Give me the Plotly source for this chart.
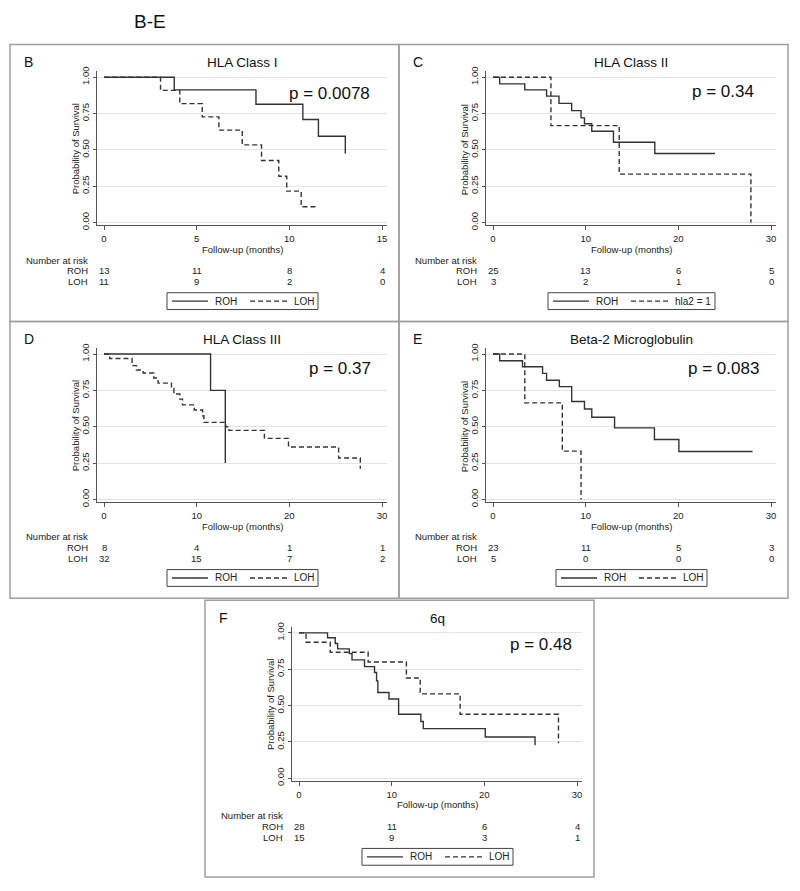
import plotly.graph_objects as go

W, H = 800, 891
FONT = "Liberation Sans, Arial, Helvetica, sans-serif"

# ---------------- data ----------------
panel_letters = ["B", "C", "D", "E", "F"]
panel_titles = ["HLA Class I", "HLA Class II", "HLA Class III", "Beta-2 Microglobulin", "6q"]
p_values = ["p = 0.0078", "p = 0.34", "p = 0.37", "p = 0.083", "p = 0.48"]
group1_names = ["ROH", "ROH", "ROH", "ROH", "ROH"]
group2_names = ["LOH", "hla2 = 1", "LOH", "LOH", "LOH"]
x_max = [15, 30, 30, 30, 30]
x_ticks = [[0, 5, 10, 15], [0, 10, 20, 30], [0, 10, 20, 30], [0, 10, 20, 30], [0, 10, 20, 30]]
y_ticks = [0, 0.25, 0.5, 0.75, 1.0]
y_tick_labels = ["0.00", "0.25", "0.50", "0.75", "1.00"]

# Kaplan-Meier step data (time of step, survival after step); last repeated value = censored end
b_roh_t = [3.79, 8.2, 10.73, 11.57, 13.02]
b_roh_s = [0.913, 0.814, 0.709, 0.594, 0.475]
b_loh_t = [3.05, 4.09, 5.3, 6.2, 7.46, 8.5, 9.43, 9.86, 10.64, 11.52]
b_loh_s = [0.909, 0.818, 0.727, 0.636, 0.534, 0.427, 0.318, 0.216, 0.109, 0.109]

c_roh_t = [0.72, 3.43, 5.78, 7.12, 8.49, 9.5, 9.87, 10.66, 13.0, 17.46, 23.96]
c_roh_s = [0.954, 0.913, 0.87, 0.82, 0.77, 0.72, 0.68, 0.628, 0.552, 0.475, 0.475]
c_hla_t = [6.25, 13.62, 27.83]
c_hla_s = [0.667, 0.333, 0.0]

d_roh_t = [11.5, 13.09]
d_roh_s = [0.75, 0.25]
d_loh_t = [0.61, 3.03, 3.5, 4.22, 5.37, 5.84, 7.28, 7.54, 8.19, 8.47, 9.74, 10.64, 10.78,
           13.13, 13.49, 17.31, 19.91, 25.32, 27.66]
d_loh_s = [0.969, 0.92, 0.89, 0.87, 0.835, 0.80, 0.765, 0.725, 0.69, 0.65, 0.615, 0.575, 0.53,
           0.50, 0.475, 0.42, 0.36, 0.285, 0.21]

e_roh_t = [0.72, 3.18, 5.35, 5.78, 7.16, 8.49, 9.87, 10.66, 13.12, 17.42, 20.06, 28.01]
e_roh_s = [0.954, 0.913, 0.867, 0.82, 0.776, 0.673, 0.622, 0.565, 0.492, 0.412, 0.33, 0.33]
e_loh_t = [3.43, 7.48, 9.5]
e_loh_s = [0.664, 0.332, 0.0]

f_roh_t = [3.08, 3.91, 4.17, 5.43, 5.72, 7.07, 8.15, 8.37, 8.51, 9.71, 10.75, 13.15, 13.41, 20.1, 25.47]
f_roh_s = [0.966, 0.927, 0.89, 0.857, 0.814, 0.768, 0.727, 0.67, 0.59, 0.545, 0.44, 0.39, 0.341, 0.284, 0.227]
f_loh_t = [0.76, 3.37, 7.46, 11.59, 13.08, 17.39, 28.0]
f_loh_s = [0.936, 0.867, 0.8, 0.69, 0.58, 0.44, 0.24]

g1_times = [b_roh_t, c_roh_t, d_roh_t, e_roh_t, f_roh_t]
g1_surv = [b_roh_s, c_roh_s, d_roh_s, e_roh_s, f_roh_s]
g2_times = [b_loh_t, c_hla_t, d_loh_t, e_loh_t, f_loh_t]
g2_surv = [b_loh_s, c_hla_s, d_loh_s, e_loh_s, f_loh_s]

# numbers at risk at the x ticks
risk_g1 = [[13, 11, 8, 4], [25, 13, 6, 5], [8, 4, 1, 1], [23, 11, 5, 3], [28, 11, 6, 4]]
risk_g2 = [[11, 9, 2, 0], [3, 2, 1, 0], [32, 15, 7, 2], [5, 0, 0, 0], [15, 9, 3, 1]]
risk_row_labels = ["ROH", "LOH"]

# ---------------- layout helpers ----------------
panel_origin = [(10, 40), (399, 40), (10, 320), (399, 320), (205, 602)]
p_right = [362, 357, 363, 362, 369]
p_y = [49, 47, 48, 48, 45]
legend_w = [151, 167, 151, 151, 151]
PW, PH = 389, 280
SOLID, DASH = "solid", "5px,3px"


def fx(px):
    return px / W


def fy(py):
    return 1 - py / H


fig = go.Figure()
layout = dict(
    width=W, height=H, autosize=False,
    margin=dict(l=0, r=0, t=0, b=0),
    paper_bgcolor="white", plot_bgcolor="white",
    font=dict(family=FONT, size=9.5, color="#222"),
    hovermode=False, showlegend=False,
)
annotations = []
shapes = []

small = dict(family=FONT, size=9.5, color="#222")
line_col = "#333333"

for i, (L, T) in enumerate(panel_origin):
    n = "" if i == 0 else str(i + 1)
    xm = x_max[i]
    scale = 278.0 / xm
    xr = [-7.0 / scale, xm + 5.0 / scale]
    yr = [-3.0 / 147.0, 1 + 6.0 / 147.0]
    layout["xaxis" + n] = dict(
        domain=[fx(L + 87), fx(L + 377)], anchor="y" + n, range=xr,
        showline=True, linecolor="#555", linewidth=1, ticks="outside", ticklen=4,
        tickcolor="#555", tickvals=x_ticks[i], showgrid=False, zeroline=False,
        tickfont=small, fixedrange=True,
    )
    layout["yaxis" + n] = dict(
        domain=[fy(T + 183), fy(T + 27)], anchor="x" + n, range=yr,
        showline=True, linecolor="#555", linewidth=1, ticks="outside", ticklen=3,
        tickcolor="#555", tickvals=y_ticks, ticktext=y_tick_labels, tickangle=-90,
        showgrid=True, gridcolor="#e4e4e4", gridwidth=1, zeroline=False,
        tickfont=small, fixedrange=True,
    )

    for times, surv, name, dash in [
        (g1_times[i], g1_surv[i], group1_names[i], SOLID),
        (g2_times[i], g2_surv[i], group2_names[i], DASH),
    ]:
        xs = [0.0] + list(times)
        ys = [1.0] + list(surv)
        fig.add_trace(go.Scatter(
            x=xs, y=ys, mode="lines", line=dict(shape="hv", color=line_col, width=1.4, dash=dash),
            name=name, xaxis="x" + n, yaxis="y" + n, showlegend=False,
        ))

    # panel border
    shapes.append(dict(type="rect", xref="paper", yref="paper",
                       x0=fx(L), x1=fx(L + PW), y0=fy(T + PH), y1=fy(T),
                       line=dict(color="#a0a0a0", width=1.5), fillcolor="rgba(0,0,0,0)"))

    # legend box (Stata style)
    bw = legend_w[i]
    bl = L + 232.5 - bw / 2.0
    shapes.append(dict(type="rect", xref="paper", yref="paper",
                       x0=fx(bl), x1=fx(bl + bw), y0=fy(T + 268), y1=fy(T + 251),
                       line=dict(color="#444", width=1), fillcolor="white"))
    ly = fy(T + 259.5)
    shapes.append(dict(type="line", xref="paper", yref="paper",
                       x0=fx(bl + 5), x1=fx(bl + 41), y0=ly, y1=ly,
                       line=dict(color=line_col, width=1.4, dash=SOLID)))
    shapes.append(dict(type="line", xref="paper", yref="paper",
                       x0=fx(bl + 83), x1=fx(bl + 120), y0=ly, y1=ly,
                       line=dict(color=line_col, width=1.4, dash=DASH)))
    annotations.append(dict(text=group1_names[i], xref="paper", yref="paper",
                            x=fx(bl + 46), y=ly, xanchor="left", yanchor="middle",
                            showarrow=False, font=dict(family=FONT, size=10, color="#222")))
    annotations.append(dict(text=group2_names[i], xref="paper", yref="paper",
                            x=fx(bl + 125), y=ly, xanchor="left", yanchor="middle",
                            showarrow=False, font=dict(family=FONT, size=10, color="#222")))

    # letter, title, p-value
    annotations.append(dict(text=panel_letters[i], xref="paper", yref="paper",
                            x=fx(L + 12), y=fy(T + 18), xanchor="left", yanchor="middle",
                            showarrow=False, font=dict(family=FONT, size=14, color="#111")))
    annotations.append(dict(text=panel_titles[i], xref="paper", yref="paper",
                            x=fx(L + 232), y=fy(T + 18), xanchor="center", yanchor="middle",
                            showarrow=False, font=dict(family=FONT, size=13.5, color="#111")))
    annotations.append(dict(text=p_values[i], xref="paper", yref="paper",
                            x=fx(L + p_right[i]), y=fy(T + p_y[i]), xanchor="right", yanchor="middle",
                            showarrow=False, font=dict(family=FONT, size=17, color="#111")))
    # axis titles
    annotations.append(dict(text="Follow-up (months)", xref="paper", yref="paper",
                            x=fx(L + 232), y=fy(T + 207), xanchor="center", yanchor="middle",
                            showarrow=False, font=small))
    annotations.append(dict(text="Probability of Survival", xref="paper", yref="paper",
                            x=fx(L + 65), y=fy(T + 106), xanchor="center", yanchor="middle",
                            textangle=-90, showarrow=False, font=small))
    # risk table
    annotations.append(dict(text="Number at risk", xref="paper", yref="paper",
                            x=fx(L + 80), y=fy(T + 218), xanchor="right", yanchor="middle",
                            showarrow=False, font=small))
    for row, (lab, vals) in enumerate(zip(risk_row_labels, [risk_g1[i], risk_g2[i]])):
        yy = fy(T + 229 + 11 * row)
        annotations.append(dict(text=lab, xref="paper", yref="paper",
                                x=fx(L + 80), y=yy, xanchor="right", yanchor="middle",
                                showarrow=False, font=small))
        for tv, v in zip(x_ticks[i], vals):
            annotations.append(dict(text=str(v), xref="x" + n, yref="paper",
                                    x=tv, y=yy, xanchor="center", yanchor="middle",
                                    showarrow=False, font=small))

annotations.append(dict(text="B-E", xref="paper", yref="paper", x=fx(150), y=fy(17),
                        xanchor="center", yanchor="middle", showarrow=False,
                        font=dict(family=FONT, size=19, color="#111")))

layout["annotations"] = annotations
layout["shapes"] = shapes
fig.update_layout(**layout)

fig.write_html(
    "out.html",
    config={"displayModeBar": False, "staticPlot": True},
    post_script="document.documentElement.style.margin='0';document.body.style.margin='0';"
                "document.body.style.padding='0';document.body.style.overflow='hidden';",
)
